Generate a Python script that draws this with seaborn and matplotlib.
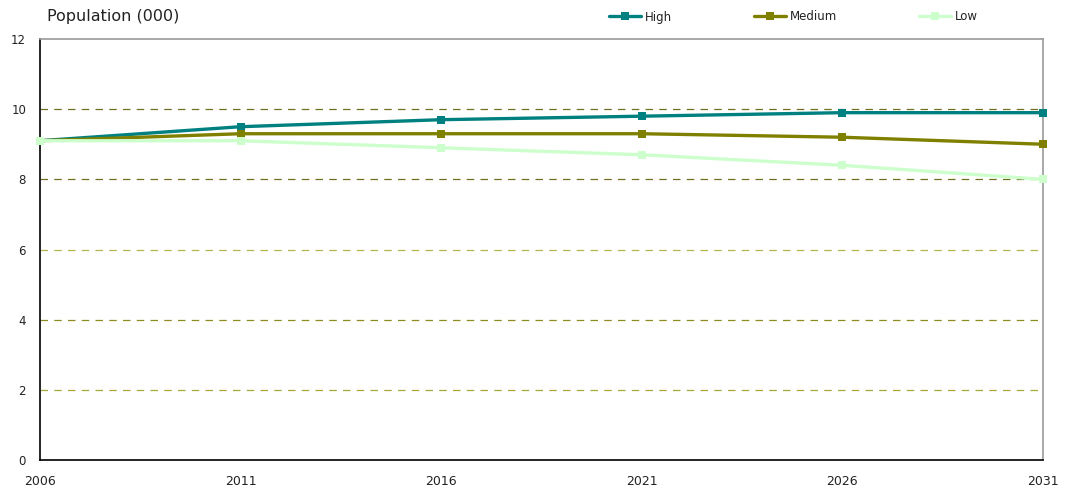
import matplotlib
matplotlib.use("Agg")
import matplotlib.pyplot as plt
import seaborn as sns
import pandas as pd
from matplotlib.lines import Line2D

years = [2006, 2011, 2016, 2021, 2026, 2031]
high = [9.1, 9.5, 9.7, 9.8, 9.9, 9.9]
medium = [9.1, 9.3, 9.3, 9.3, 9.2, 9.0]
low = [9.1, 9.1, 8.9, 8.7, 8.4, 8.0]
series_names = ["High", "Medium", "Low"]
colors = ["#008080", "#808000", "#CCFFCC"]
y_ticks = [0, 2, 4, 6, 8, 10, 12]

sns.set_style("white")
plt.rcParams["font.family"] = ["DejaVu Sans"]

df = pd.DataFrame({
    "Year": years * 3,
    "Value": high + medium + low,
    "Scenario": [s for s in series_names for _ in years],
})

fig = plt.figure(figsize=(10.69, 4.88), dpi=100)
ax = fig.add_axes([40 / 1069, 28 / 488, 1003 / 1069, 421 / 488])

# gridlines
grid_cols = {2: "#a8a838", 4: "#8c8c20", 6: "#b4b44c", 8: "#707020", 10: "#707020"}
for yv in y_ticks[1:-1]:
    ax.axhline(yv, color=grid_cols.get(yv, "#808000"), lw=0.9, ls=(0, (6, 5)), zorder=0)

sns.lineplot(data=df, x="Year", y="Value", hue="Scenario", hue_order=series_names,
             palette=colors, marker="s", markersize=6, markeredgewidth=0,
             linewidth=2.4, dashes=False, ax=ax, legend=False, zorder=3, clip_on=False)

ax.set_xlim(years[0], years[-1])
ax.set_ylim(0, 12)
ax.set_xticks(years)
ax.set_xticklabels([str(y) for y in years])
ax.set_yticks(y_ticks)
ax.set_xlabel("")
ax.set_ylabel("")
ax.tick_params(axis="x", direction="out", length=4, width=1, color="black",
               labelsize=9, pad=7)
ax.tick_params(axis="y", length=0, labelsize=8.5, pad=10)
for lab in ax.get_xticklabels() + ax.get_yticklabels():
    lab.set_color("#222222")

ax.spines["left"].set_color("black")
ax.spines["bottom"].set_color("black")
ax.spines["left"].set_linewidth(1.2)
ax.spines["bottom"].set_linewidth(1.2)
ax.spines["top"].set_color("#999999")
ax.spines["right"].set_color("#999999")
ax.spines["top"].set_linewidth(1.2)
ax.spines["right"].set_linewidth(1.2)

fig.text(47 / 1069, 1 - 17 / 488, "Population (000)", fontsize=11.5, va="center",
         ha="left", color="#222222")

handles = [Line2D([0], [0], color=c, lw=2.4, marker="s", markersize=6, markeredgewidth=0)
           for c in colors]
fig.legend(handles, series_names, loc="center left",
           bbox_to_anchor=(609 / 1069, 1 - 17 / 488), ncol=3, frameon=False,
           fontsize=8.5, handlelength=2.7, handletextpad=0.3, columnspacing=7.0,
           borderaxespad=0, borderpad=0, labelcolor="#222222")

fig.savefig("out.png", dpi=100)
